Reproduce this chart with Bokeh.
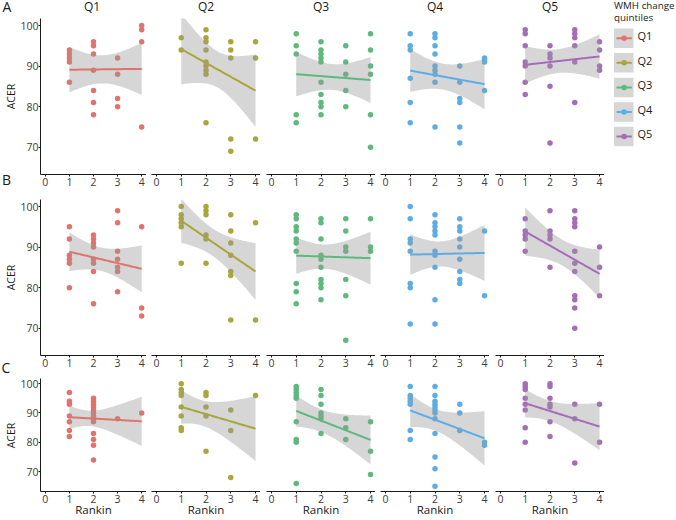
import numpy as np
from bokeh.plotting import figure
from bokeh.layouts import row, column
from bokeh.models import Range1d, FixedTicker
from bokeh.core.properties import value
from bokeh.embed import file_html
from bokeh.resources import INLINE

# ---------------- data ----------------
quintiles = ["Q1", "Q2", "Q3", "Q4", "Q5"]
colors = ["#E0736B", "#A9A63C", "#5DB97C", "#5CADE6", "#A56DB7"]
row_letters = ["A", "B", "C"]
rankin_ticks = [0, 1, 2, 3, 4]
acer_ticks = [70, 80, 90, 100]
legend_title = ["WMH change", "quintiles"]
x_title = "Rankin"
y_title = "ACER"

# ACER values grouped by Rankin score, one dict per panel
acer_A_Q1 = {1: [94, 93, 92, 91, 86], 2: [96, 95, 93, 89, 84, 81, 78], 3: [92, 88, 82, 80], 4: [100, 99, 96, 75]}
acer_A_Q2 = {1: [97, 94], 2: [99, 97, 96, 94, 91, 90, 89, 88, 76], 3: [96, 94, 92, 72, 69], 4: [96, 92, 72]}
acer_A_Q3 = {1: [98, 95, 93, 78, 76], 2: [96, 94, 93, 92, 91, 86, 83, 81, 80, 78], 3: [95, 91, 88, 84, 80], 4: [98, 94, 90, 88, 78, 70]}
acer_A_Q4 = {1: [98, 95, 94, 87, 81, 76], 2: [98, 97, 95, 93, 90, 89, 88, 86, 75], 3: [90, 86, 82, 81, 75, 71], 4: [92, 91.5, 91, 84]}
acer_A_Q5 = {1: [99, 98, 95, 91, 90, 86, 83], 2: [95, 93, 92, 90, 85, 71], 3: [99, 98, 97, 95, 91, 81], 4: [96, 94, 90, 89]}

acer_B_Q1 = {1: [95, 92, 88, 87, 86, 80], 2: [93, 92, 91, 90, 87, 86, 84, 76], 3: [99, 96, 89, 87, 85, 84, 79], 4: [95, 75, 73]}
acer_B_Q2 = {1: [100, 98, 97, 96, 95, 86], 2: [100, 99, 98, 93, 92, 86], 3: [98, 94, 91, 88, 84, 83, 72], 4: [96, 72]}
acer_B_Q3 = {1: [98, 97, 95, 94, 92, 91, 89, 81, 79, 76], 2: [97, 96, 92, 88, 87, 85, 82, 81, 80, 77], 3: [97, 94, 90, 89, 82, 78, 67], 4: [97, 90, 89]}
acer_B_Q4 = {1: [100, 97, 92, 91, 89, 81, 80, 71], 2: [98, 96, 95, 94, 93, 89, 88, 85, 77, 71], 3: [97, 95, 94, 92, 90, 87, 84, 82, 81], 4: [94, 78]}
acer_B_Q5 = {1: [97, 94, 93, 92, 89], 2: [99, 94, 93, 92, 85], 3: [99, 97, 96, 95, 89, 86, 84, 78, 77, 75, 70], 4: [90, 85, 78]}

acer_C_Q1 = {1: [97, 94, 93, 89, 87, 84, 82], 2: [95, 94, 93, 92, 91, 90, 89, 88, 87, 83, 81, 79, 74], 3: [88], 4: [90]}
acer_C_Q2 = {1: [100, 98, 97, 96, 92, 89, 85, 84], 2: [97, 96, 92, 89, 77], 3: [91, 84, 68], 4: [96]}
acer_C_Q3 = {1: [99, 98, 97, 96, 95, 87, 81, 80, 66], 2: [98, 96, 93, 90, 89, 88, 83], 3: [88, 85, 81], 4: [87, 77, 69]}
acer_C_Q4 = {1: [99, 96, 95, 94, 93, 84, 81], 2: [99, 96, 94, 93, 92, 91, 90, 88, 83, 75, 71, 65], 3: [93, 90, 84], 4: [80, 79]}
acer_C_Q5 = {1: [100, 99, 98, 95, 93, 91, 85, 80], 2: [100, 99, 95, 93, 92, 87, 82], 3: [93, 88, 73], 4: [93, 80]}

panels = {
    "A": [acer_A_Q1, acer_A_Q2, acer_A_Q3, acer_A_Q4, acer_A_Q5],
    "B": [acer_B_Q1, acer_B_Q2, acer_B_Q3, acer_B_Q4, acer_B_Q5],
    "C": [acer_C_Q1, acer_C_Q2, acer_C_Q3, acer_C_Q4, acer_C_Q5],
}

# ---------------- helpers ----------------
FONT = value("Open Sans")
FONT_NAME = "Open Sans"
TXT = "#1a1a1a"
TICKTXT = "#3d3d3d"
AXIS = "#1a1a1a"


def t975(df):
    z = 1.959963984540054
    g1 = (z**3 + z) / 4
    g2 = (5 * z**5 + 16 * z**3 + 3 * z) / 96
    g3 = (3 * z**7 + 19 * z**5 + 17 * z**3 - 15 * z) / 384
    g4 = (79 * z**9 + 776 * z**7 + 1482 * z**5 - 1920 * z**3 - 945 * z) / 92160
    return z + g1 / df + g2 / df**2 + g3 / df**3 + g4 / df**4


def expand(d):
    xs, ys = [], []
    for k, vals in d.items():
        xs += [k] * len(vals)
        ys += list(vals)
    return np.array(xs, float), np.array(ys, float)


def lm_fit(x, y):
    n = len(x)
    xb, yb = x.mean(), y.mean()
    sxx = ((x - xb) ** 2).sum()
    b = ((x - xb) * (y - yb)).sum() / sxx
    a = yb - b * xb
    res = y - (a + b * x)
    s = np.sqrt((res**2).sum() / (n - 2))
    X = np.linspace(x.min(), x.max(), 80)
    Y = a + b * X
    se = s * np.sqrt(1.0 / n + (X - xb) ** 2 / sxx)
    t = t975(n - 2)
    return X, Y, Y - t * se, Y + t * se


TOTAL_W, TOTAL_H = 676, 520
STRIP_H = 18
row_height = {"A": 174, "B": 180, "C": 148}
row_top = {"A": 0, "B": 7, "C": 6}
row_bottom = {"A": 18, "B": 17, "C": 29}
FRAME_W = 109
FIRST_LEFT = 20
GAPS = [FIRST_LEFT, 5, 6, 5, 6]
GUTTER_W = 17
XR = (-0.2, 4.2)
YR = (63.25, 101.75)


def blank(width, height, xr, yr, left=0):
    f = figure(width=width, height=height, x_range=Range1d(*xr), y_range=Range1d(*yr),
               output_backend="svg", toolbar_location=None, x_axis_location=None, y_axis_location=None,
               min_border=0, min_border_left=left, min_border_right=0, min_border_top=0, min_border_bottom=0)
    f.outline_line_color = None
    f.grid.visible = False
    return f


def make_panel(rk, qi):
    first = qi == 0
    p = figure(
        width=GAPS[qi] + FRAME_W,
        height=row_height[rk],
        x_range=Range1d(*XR),
        y_range=Range1d(*YR),
        output_backend="svg",
        toolbar_location=None,
        min_border_left=GAPS[qi],
        min_border_right=0,
        min_border_top=row_top[rk],
        min_border_bottom=row_bottom[rk],
        y_axis_location="left" if first else None,
    )
    p.outline_line_color = None
    p.grid.visible = False
    p.background_fill_color = "white"
    p.border_fill_color = "white"

    ax = p.xaxis[0]
    ax.ticker = FixedTicker(ticks=rankin_ticks)
    ax.major_label_standoff = 1
    axes = [ax]
    if first:
        ay = p.yaxis[0]
        ay.ticker = FixedTicker(ticks=acer_ticks)
        ay.major_label_standoff = 0
        axes.append(ay)
    for a in axes:
        a.minor_tick_line_color = None
        a.major_tick_in = 0
        a.major_tick_out = 2
        a.axis_line_color = AXIS
        a.axis_line_width = 1
        a.major_tick_line_color = AXIS
        a.major_label_text_font = FONT_NAME
        a.major_label_text_font_size = "10.5px"
        a.major_label_text_color = TICKTXT
    if rk == "C":
        ax.axis_label = x_title
        ax.axis_label_text_font = FONT_NAME
        ax.axis_label_text_font_size = "11.5px"
        ax.axis_label_text_font_style = "normal"
        ax.axis_label_text_color = TXT
        ax.axis_label_standoff = -4

    x, y = expand(panels[rk][qi])
    col = colors[qi]
    p.scatter(x, y, size=5.5, fill_color=col, line_color=None)
    X, Y, lo, hi = lm_fit(x, y)
    p.varea(x=X, y1=lo, y2=hi, fill_color="#999999", fill_alpha=0.4)
    p.line(X, Y, line_color=col, line_width=2)
    return p


rows_figs = {rk: [make_panel(rk, qi) for qi in range(5)] for rk in row_letters}

# ---------------- facet strip labels (Q1..Q5) ----------------
strips = []
for qi, q in enumerate(quintiles):
    s = blank(GAPS[qi] + FRAME_W, STRIP_H, XR, (0, STRIP_H), left=GAPS[qi])
    s.text(x=[2], y=[STRIP_H - 5.5], text=[q], text_font=FONT, text_font_size="12px",
           text_color=TXT, text_align="center", text_baseline="middle")
    strips.append(s)

# ---------------- left gutter: row letters and y-axis titles ----------------
g = blank(GUTTER_W, TOTAL_H, (0, GUTTER_W), (0, TOTAL_H))
letter_x = [6.5, 6, 5.5]
letter_y = [6, 178.5, 366.5]
g.text(x=letter_x, y=[TOTAL_H - v for v in letter_y], text=row_letters,
       text_font=FONT, text_font_size="14px", text_color=TXT,
       text_align="center", text_baseline="middle")
acer_y = [96, 277, 435]
g.text(x=[10.3] * 3, y=[TOTAL_H - v for v in acer_y], text=[y_title] * 3, angle=np.pi / 2,
       text_font=FONT, text_font_size="10.5px", text_color=TXT,
       text_align="center", text_baseline="middle")

# ---------------- legend ----------------
LW = TOTAL_W - GUTTER_W - sum(GAPS) - 5 * FRAME_W
LH = STRIP_H + row_height["A"]
lg = blank(LW, LH, (0, LW), (0, LH))
lg.text(x=[9.5, 9.5], y=[LH - 5, LH - 16.5], text=legend_title, text_font=FONT, text_font_size="9.8px",
        text_color=TXT, text_align="left", text_baseline="middle")
key_c = [LH - (37.8 + i * 24.55) for i in range(len(quintiles))]
lg.rect(x=[19.3] * 5, y=key_c, width=19.5, height=19.5, fill_color="#999999", fill_alpha=0.4, line_color=None)
lg.segment(x0=[12] * 5, y0=key_c, x1=[27.3] * 5, y1=key_c, line_color=colors, line_width=2)
lg.scatter(x=[19.6] * 5, y=key_c, size=5.5, fill_color=colors, line_color=None)
lg.text(x=[33] * 5, y=[c + 2.8 for c in key_c], text=quintiles, text_font=FONT, text_font_size="11px",
        text_color=TXT, text_align="left", text_baseline="middle")

top_block = row(column(row(*strips), row(*rows_figs["A"])), lg)
layout = row(g, column(top_block, row(*rows_figs["B"]), row(*rows_figs["C"])))

open("out.html", "w").write(file_html(layout, INLINE))
